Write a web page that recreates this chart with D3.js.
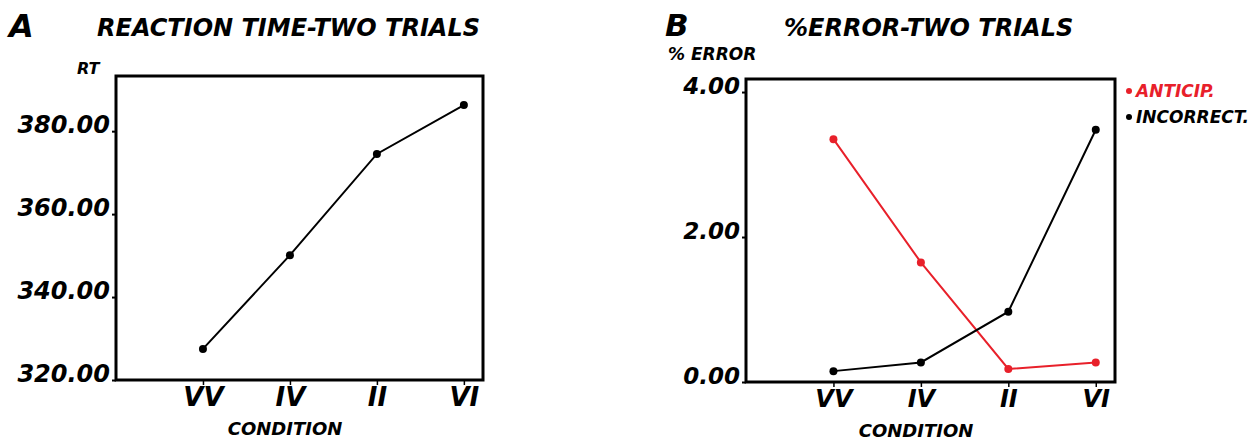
<!DOCTYPE html>
<html>
<head>
<meta charset="utf-8">
<script src="https://cdn.jsdelivr.net/npm/d3@7"></script>
<style>
  body { margin: 0; background: #fff; }
  text { font-family: "DejaVu Sans", sans-serif; font-weight: bold; font-style: italic; }
</style>
</head>
<body>
<svg id="chart" width="1257" height="440"></svg>
<script>
// data
var conditions = ["VV", "IV", "II", "VI"]
var rtValues = [327.5, 350.1, 374.5, 386.3]
var rtTicks = [320, 340, 360, 380]
var anticipValues = [3.35, 1.65, 0.18, 0.27]
var incorrectValues = [0.15, 0.27, 0.97, 3.48]
var errTicks = [0, 2, 4]

var svg = d3.select("#chart")

// draws one framed panel, returns the scales
function panel(box, yDomain, yTicks, xMax) {
  var x = d3.scaleLinear().domain([0, xMax]).range([box.left, box.right])
  var y = d3.scaleLinear().domain(yDomain).range([box.bottom, box.top])

  // frame
  svg.append("rect")
    .attr("x", box.left).attr("y", box.top)
    .attr("width", box.right - box.left).attr("height", box.bottom - box.top)
    .attr("fill", "none").attr("stroke", "black").attr("stroke-width", 3)

  var yAxis = d3.axisLeft(y).tickValues(yTicks).tickSize(4).tickPadding(2)
    .tickFormat(d3.format(".2f"))
  var gy = svg.append("g").attr("transform", "translate(" + box.left + ",0)").call(yAxis)
  gy.select(".domain").remove()
  gy.selectAll("line").attr("stroke-width", 2)
  gy.selectAll("text").style("font-size", box.yFont + "px").attr("fill", "black").attr("dy", "0.05em")

  var xAxis = d3.axisBottom(x).tickValues([1, 2, 3, 4]).tickSize(5).tickPadding(3)
    .tickFormat(function(d) { return conditions[d - 1] })
  var gx = svg.append("g").attr("transform", "translate(0," + box.bottom + ")").call(xAxis)
  gx.select(".domain").remove()
  gx.selectAll("line").attr("stroke-width", 1.5)
  gx.selectAll("text").style("font-size", box.xFont + "px").attr("fill", "black")

  return {x: x, y: y}
}

function series(s, values, color) {
  var line = d3.line()
    .x(function(d, i) { return s.x(i + 1) })
    .y(function(d) { return s.y(d) })
  svg.append("path")
    .datum(values)
    .attr("d", line)
    .attr("fill", "none")
    .attr("stroke", color)
    .attr("stroke-width", 2)
  svg.selectAll(null)
    .data(values)
    .join("circle")
    .attr("cx", function(d, i) { return s.x(i + 1) })
    .attr("cy", function(d) { return s.y(d) })
    .attr("r", 4)
    .attr("fill", color)
}

// ---- panel A ----
var a = panel({left: 116, right: 483, top: 76, bottom: 380, yFont: 24, xFont: 26}, [320, 393.3], rtTicks, 4.22)
series(a, rtValues, "black")

svg.append("text").attr("x", 9).attr("y", 37).style("font-size", "32px").text("A")
svg.append("text").attr("x", 97).attr("y", 36).style("font-size", "24px").text("REACTION TIME-TWO TRIALS")
svg.append("text").attr("x", 77).attr("y", 74).style("font-size", "16px").text("RT")
svg.append("text").attr("x", 285).attr("y", 435).attr("text-anchor", "middle")
  .style("font-size", "18px").text("CONDITION")

// ---- panel B ----
var b = panel({left: 746, right: 1115, top: 79, bottom: 382, yFont: 23, xFont: 24}, [0, 4.18], errTicks, 4.22)
series(b, anticipValues, "#e8202a")
series(b, incorrectValues, "black")

svg.append("text").attr("x", 665).attr("y", 36).style("font-size", "31px").text("B")
svg.append("text").attr("x", 784).attr("y", 36).style("font-size", "24px").text("%ERROR-TWO TRIALS")
svg.append("text").attr("x", 668).attr("y", 60).style("font-size", "17px").text("% ERROR")
svg.append("text").attr("x", 916).attr("y", 437).attr("text-anchor", "middle")
  .style("font-size", "18px").text("CONDITION")

// legend
var legendItems = [["ANTICIP.", "#e8202a"], ["INCORRECT.", "black"]]
legendItems.forEach(function(item, i) {
  var ly = 97 + i * 26
  svg.append("circle").attr("cx", 1129).attr("cy", ly - 6).attr("r", 3).attr("fill", item[1])
  svg.append("text").attr("x", 1136).attr("y", ly).attr("fill", item[1])
    .style("font-size", "17px").text(item[0])
})
</script>
</body>
</html>
